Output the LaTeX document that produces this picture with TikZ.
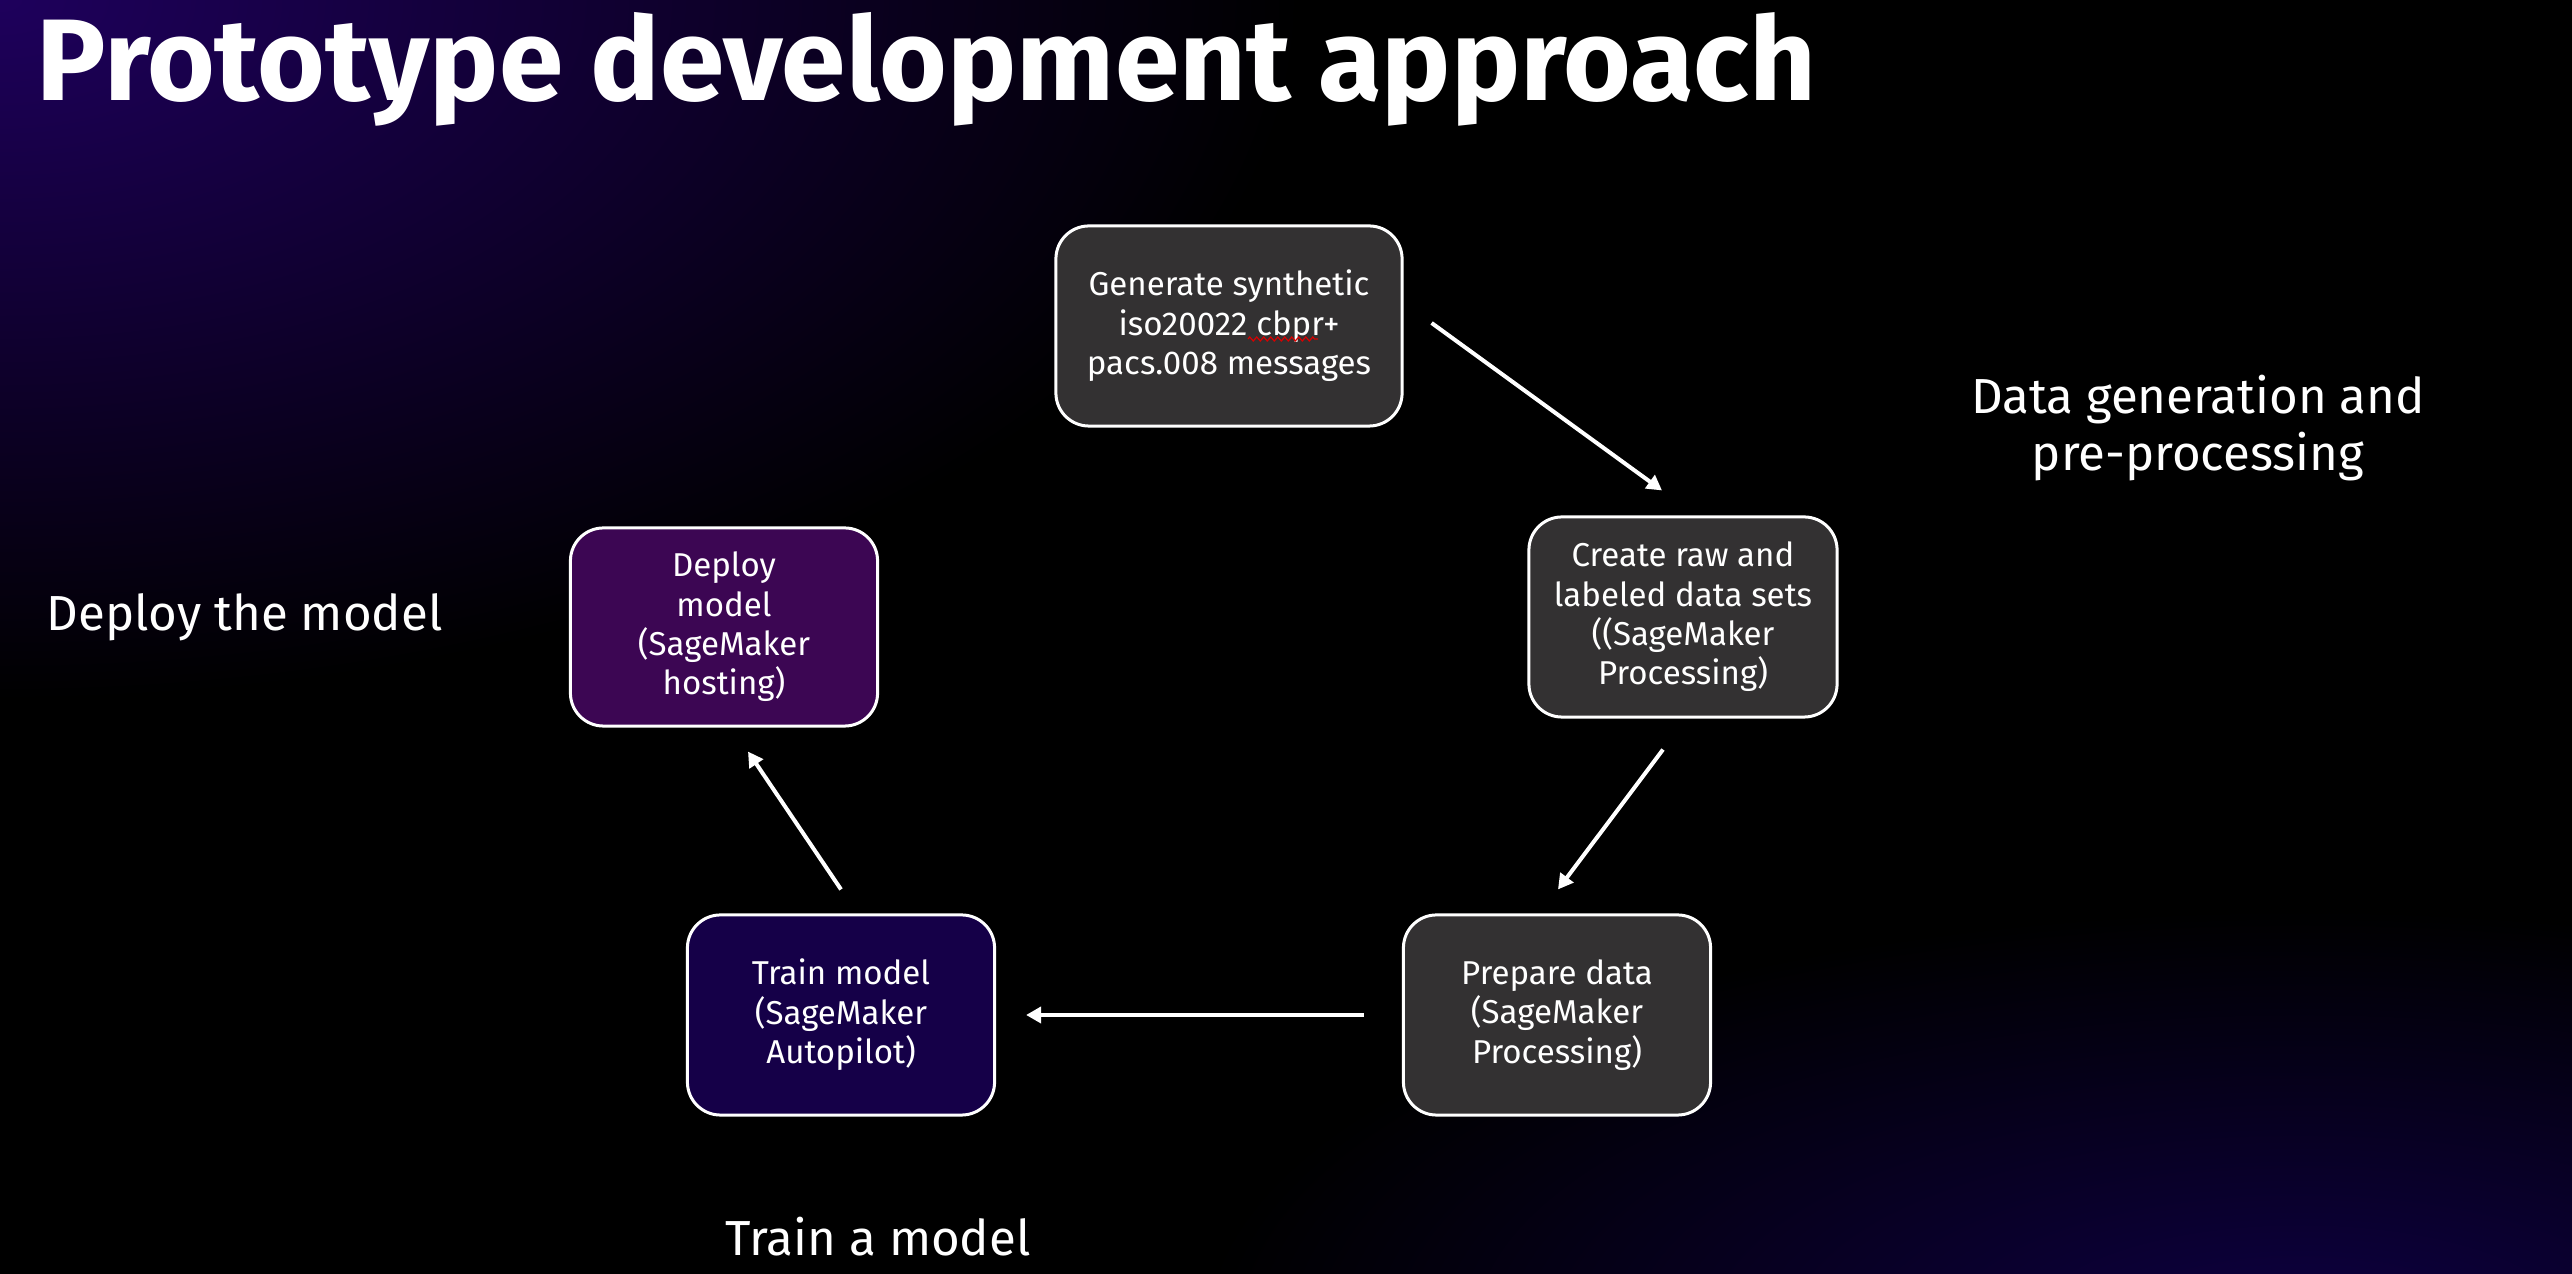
\documentclass[tikz,border=0pt]{standalone}
\usepackage{fontspec}
\setmainfont{Fira Sans}
\usetikzlibrary{arrows.meta, decorations.pathmorphing}
\definecolor{boxgray}{RGB}{51,49,50}
\definecolor{trainblue}{RGB}{21,0,72}
\definecolor{deployviolet}{RGB}{60,6,83}
\definecolor{glowtl}{RGB}{30,0,92}
\definecolor{glowbr}{RGB}{14,0,66}

\begin{document}
\begin{tikzpicture}[x=0.01cm, y=-0.01cm,
  stepnode/.style={shape=rectangle, rounded corners=0.33cm, draw=white, line width=0.03cm, text=white, align=center, minimum width=3.07cm, minimum height=2cm, inner sep=0pt, font=\fontsize{9.4}{11.2}\selectfont},
  arr/.style={-{Triangle[length=0.15cm,width=0.16cm]}, white, line width=0.04cm},
  phase/.style={text=white, align=center, font=\fontsize{14}{16.3}\selectfont}]
  % background
  \fill[black] (0,0) rectangle (2572,1274);
  \begin{scope}
    \clip (0,0) rectangle (2572,1274);
    \shade[inner color=glowtl, outer color=black] (0,0) ellipse (1300 and 700);
    \shade[inner color=glowbr, outer color=black] (2300,1330) ellipse (1100 and 420);
  \end{scope}
  \useasboundingbox (0,0) rectangle (2572,1274);

  \node[anchor=base west, text=white, inner sep=0pt, font=\fontsize{33}{38}\selectfont\bfseries] (title) at (36,101) {Prototype development approach};

  \node[stepnode, fill=boxgray, minimum width=3.46cm] (gen) at (1229,326) {Generate synthetic\\iso20022 cbpr+\\pacs.008 messages};
  \node[stepnode, fill=boxgray, minimum width=3.08cm] (raw) at (1683,617) {Create raw and\\labeled data sets\\((SageMaker\\Processing)};
  \node[stepnode, fill=boxgray] (prep) at (1557,1015) {Prepare data\\(SageMaker\\Processing)};
  \node[stepnode, fill=trainblue] (train) at (841,1015) {Train model\\(SageMaker\\Autopilot)};
  \node[stepnode, fill=deployviolet, minimum height=1.98cm] (deploy) at (724,627) {Deploy\\model\\(SageMaker\\hosting)};

  %\draw[red] (gen.center) circle (3);
  \draw[red!85!black, line width=0.012cm, decorate, decoration={zigzag, amplitude=0.02cm, segment length=0.07cm}] ([shift={(19,13)}]gen.center) -- ([shift={(89,13)}]gen.center);

  \node[phase] (datalbl) at (2198,428) {Data generation and\\pre-processing};
  \node[phase, anchor=west, inner sep=0pt] (deploylbl) at (46,617) {Deploy the model};
  \node[phase] (trainlbl) at (878,1237) {Train a model};

  \path[arr] ([shift={(28,-3)}]gen.east) edge ([shift={(-21,-25)}]raw.north);
  \path[arr] ([shift={(-20,31)}]raw.south) edge ([shift={(1,-24)}]prep.north);
  \path[arr] ([shift={(-38,0)}]prep.west) edge ([shift={(30,0)}]train.east);
  \path[arr] ([shift={(0,-24)}]train.north) edge ([shift={(24,24)}]deploy.south);
\end{tikzpicture}
\end{document}
